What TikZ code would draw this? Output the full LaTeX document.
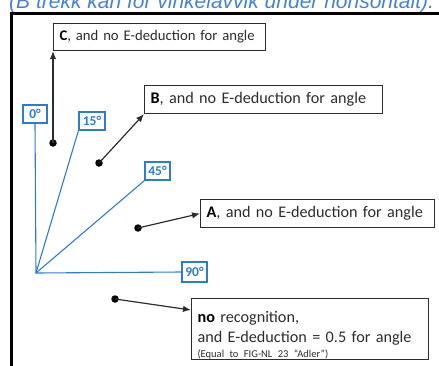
\documentclass[tikz,border=0pt]{standalone}
\usepackage{fontspec}
\setmainfont{Carlito}
\newfontfamily\arialfont{Liberation Sans}
\usetikzlibrary{arrows.meta}
\definecolor{degblue}{RGB}{46,125,205}
\definecolor{topblue}{RGB}{70,130,215}
\definecolor{boxtext}{RGB}{45,45,45}
\tikzset{
  lbl/.style={draw=boxtext, line width=1.1pt, fill=white, text=boxtext,
    font=\fontsize{16.2}{20}\selectfont, inner xsep=6pt, inner ysep=0pt,
    anchor=north west, align=left},
  deg/.style={draw=degblue, line width=1.1pt, fill=white, text=degblue,
    font=\bfseries\fontsize{13.5}{15}\selectfont, inner xsep=1pt, inner ysep=0pt,
    minimum height=18pt, minimum width=24pt},
  ray/.style={degblue, line width=1.1pt},
  arr/.style={-{Latex[length=8pt,width=6.5pt]}, line width=1.2pt, boxtext},
  dotnode/.style={circle, fill=black, inner sep=0pt, minimum size=7.5pt},
  frame/.style={black, line width=3pt}
}
\begin{document}
\begin{tikzpicture}[x=1pt,y=-1pt]
\useasboundingbox (0,0) rectangle (439,365);
% clipped heading
\node[anchor=base west, inner sep=0pt, text=topblue,
  font=\arialfont\itshape\fontsize{21}{24}\selectfont] (head) at (9,8)
  {(B trekk kan for vinkelavvik under horisontalt).};
% frame
\draw[frame] (11.5,370) -- (11.5,13) -- (450,13);
% origin and rays
\coordinate (O) at (36,273);
\node[deg] (d0) at (35,114) {0°};
\node[deg, minimum width=26pt] (d15) at (92,121) {15°};
\node[deg, minimum width=25pt] (d45) at (157.5,171) {45°};
\node[deg, minimum width=25pt, minimum height=20pt] (d90) at (194.5,272) {90°};
\draw[ray] (d0.south) -- (O) -- (d90.west);
\draw[ray] (O) -- (d15.south west);
\draw[ray] (O) -- (d45.south west);
% label boxes
\node[lbl, text width=200pt, minimum height=27pt, font=\fontsize{14.7}{18}\selectfont] (C) at (53,23)
  {\textbf{\color{black}C}, and no E-deduction for angle};
\node[lbl, text width=226pt, minimum height=28pt] (B) at (144,85)
  {\textbf{\color{black}B}, and no E-deduction for angle};
\node[lbl, text width=222pt, minimum height=28pt] (A) at (200,199)
  {\textbf{\color{black}A}, and no E-deduction for angle};
\node[lbl, text width=225pt, minimum height=60pt, inner ysep=0pt] (N) at (191,298)
  {\rule{0pt}{24pt}\textbf{\color{black}no} recognition,\\and E-deduction = 0.5 for angle\\[-5pt]
   {\fontsize{10.5}{12}\selectfont (Equal to FIG-NL 23 “Adler”)}};
% dots and arrows
\node[dotnode] (dC) at (53,143) {};
\node[dotnode] (dB) at (99,163) {};
\node[dotnode] (dA) at (138,228) {};
\node[dotnode] (dN) at (115,299) {};
\draw[arr] (dC.center) -- (C.south west);
\draw[arr] (dB.center) -- (B.south west);
\draw[arr] (dA.center) -- (A.west);
\draw[arr] (dN.center) -- ([yshift=-12pt]N.north west);
\end{tikzpicture}
\end{document}
